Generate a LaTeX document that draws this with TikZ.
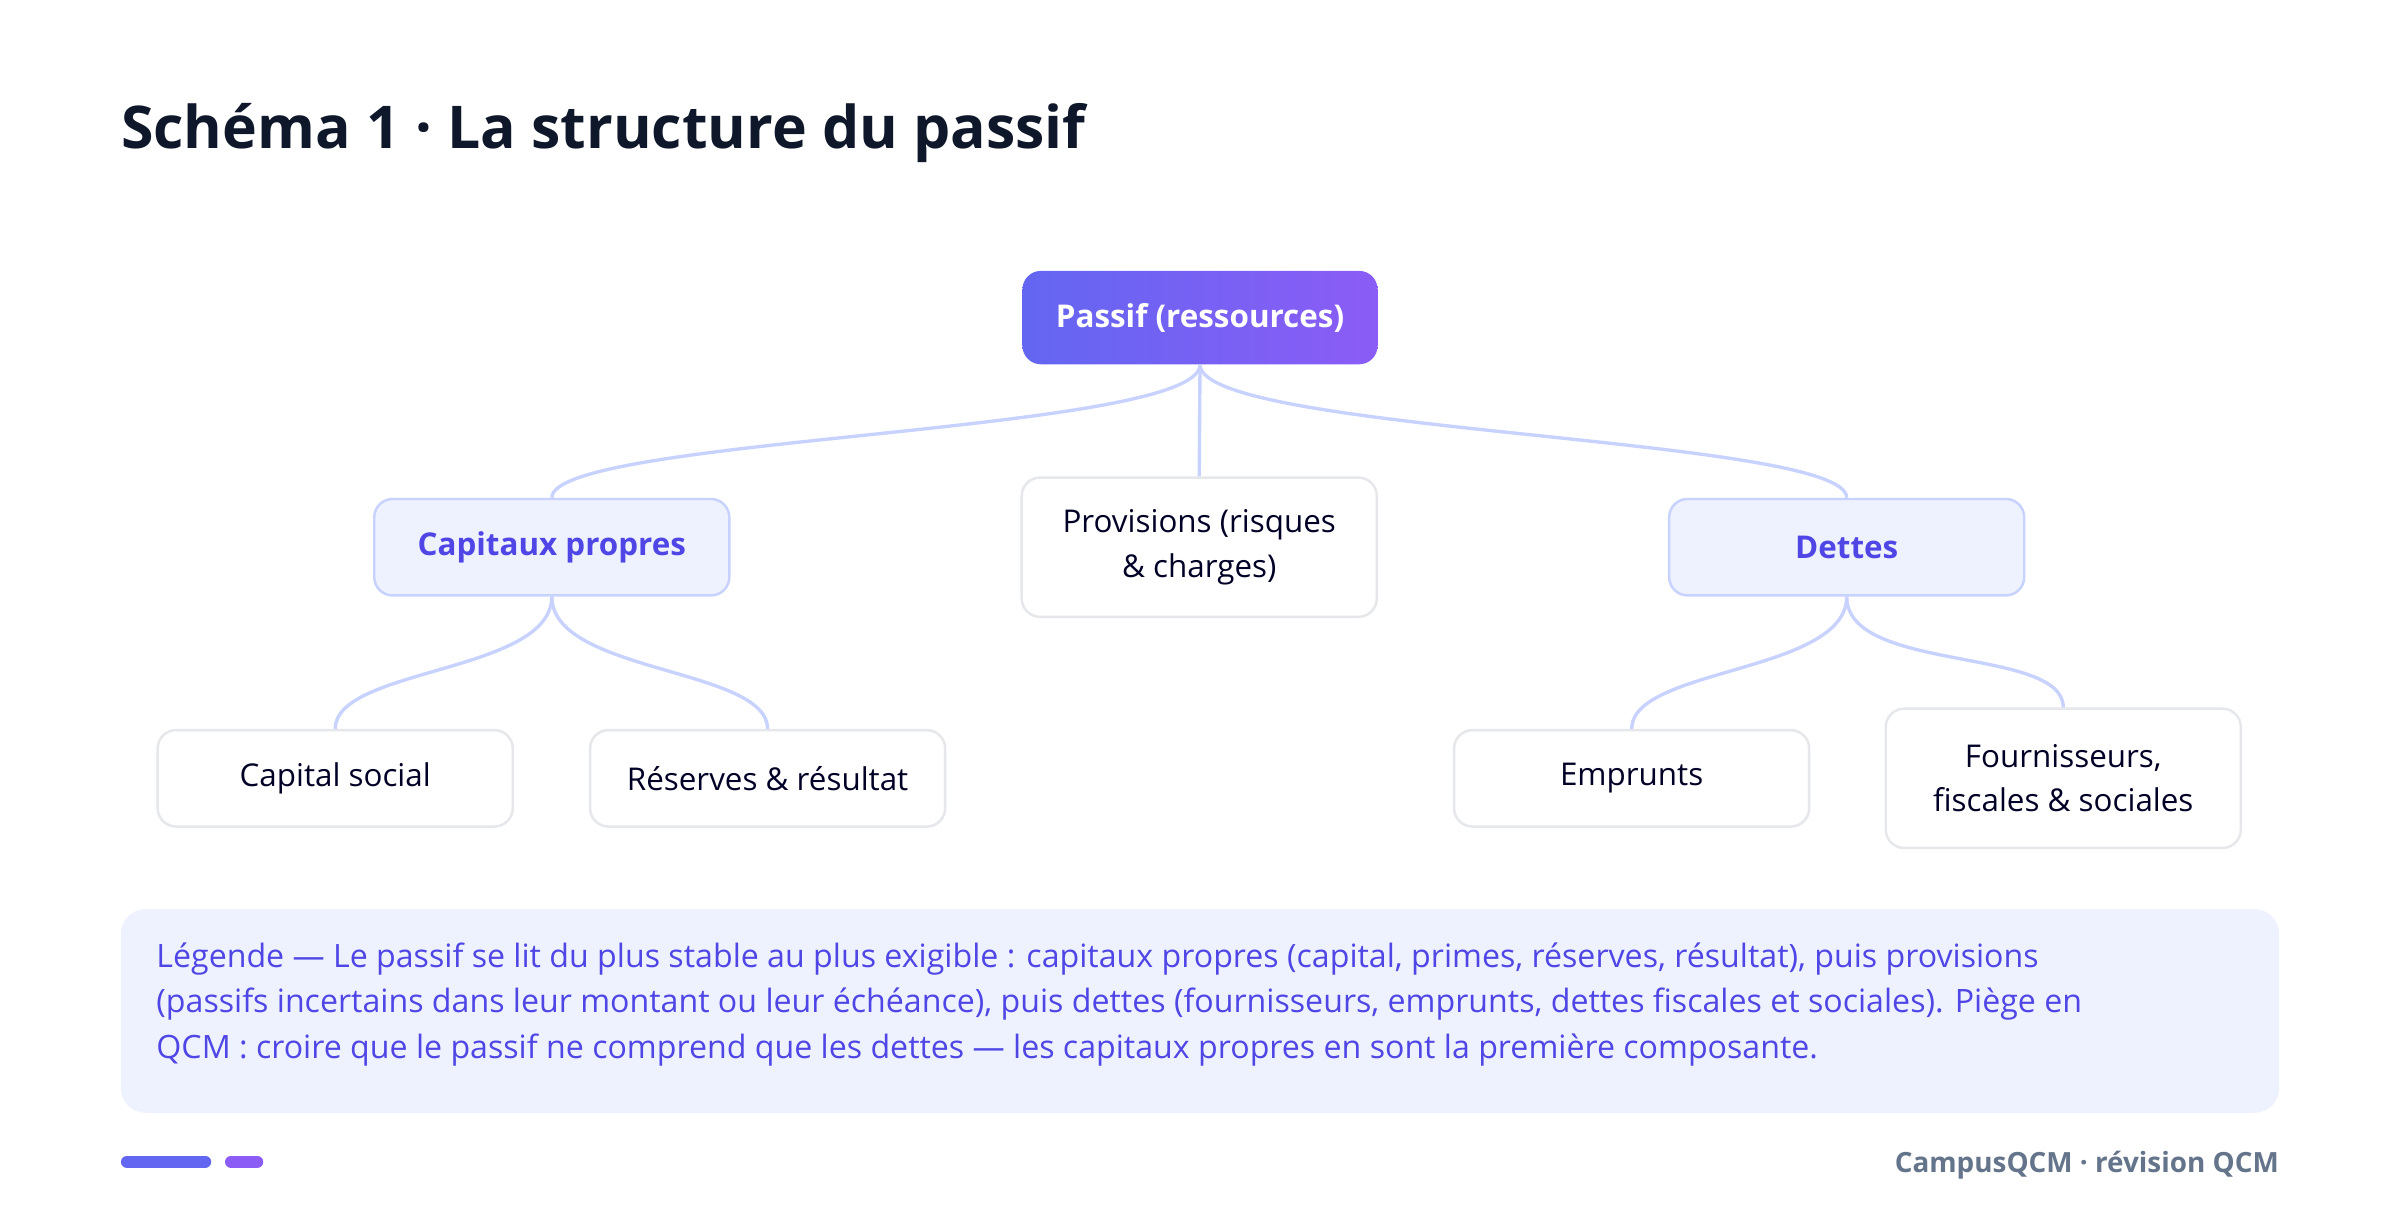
\documentclass[tikz,border=0pt]{standalone}
\usepackage{fontspec}
\setmainfont{Open Sans}
\begin{document}
\begin{tikzpicture}[x=1pt,y=-1pt,
  box/.style={draw=#1,line width=1.6pt,rounded corners=12pt,minimum width=232pt,align=center,font=\fontsize{20.5}{29}\selectfont,text=black!85!blue},
  cat/.style={box=indigo2,fill=indigo1,minimum height=63pt,text=indigoT,font=\fontsize{20.5}{29}\selectfont\bfseries},
  leaf/.style={box=gray2,fill=white,minimum height=63pt},
  con/.style={draw=indigo2,line width=2.2pt}]
\definecolor{indigo1}{HTML}{EEF2FF}
\definecolor{indigo2}{HTML}{C7D2FE}
\definecolor{indigoT}{HTML}{4F46E5}
\definecolor{gray2}{HTML}{E5E7EB}
\definecolor{ink}{HTML}{0F172A}
\definecolor{gA}{HTML}{6366F1}
\definecolor{gB}{HTML}{8B5CF6}
\useasboundingbox (0,0) rectangle (1568,799);
\node[anchor=base west,font=\fontsize{38.5}{44}\selectfont\bfseries,text=ink,inner sep=0pt] (title) at (79,97) {Schéma 1 · La structure du passif};
\node[rounded corners=12pt,minimum width=232pt,minimum height=61pt,left color=gA,right color=gB,text=white,font=\fontsize{20.5}{29}\selectfont\bfseries] (root) at (784,207.5) {Passif (ressources)};
\node[cat] (cp) at (360.5,357.5) {Capitaux propres};
\node[leaf,minimum height=91pt] (prov) at (783.5,357.5) {Provisions (risques\\\& charges)};
\node[cat] (det) at (1206.5,357.5) {Dettes};
\node[leaf] (cs) at (219,508.5) {Capital social};
\node[leaf] (res) at (501.5,508.5) {Réserves \& résultat};
\node[leaf] (emp) at (1066,508.5) {Emprunts};
\node[leaf,minimum height=91pt] (four) at (1348,508.5) {Fournisseurs,\\fiscales \& sociales};
\draw[con] (root.south) .. controls +(0,45) and +(0,-40) .. (cp.north);
\draw[con] (root.south) .. controls +(0,45) and +(0,-40) .. (det.north);
\draw[con] (root.south) -- (prov.north);
\draw[con] (cp.south) .. controls +(0,50) and +(0,-40) .. (cs.north);
\draw[con] (cp.south) .. controls +(0,50) and +(0,-40) .. (res.north);
\draw[con] (det.south) .. controls +(0,50) and +(0,-40) .. (emp.north);
\draw[con] (det.south) .. controls +(0,50) and +(0,-40) .. (four.north);
\fill[indigo1,rounded corners=16pt] (79,594) rectangle (1489,727);
\node[anchor=north west,align=left,text=indigoT,font=\fontsize{21}{29.5}\selectfont,inner sep=0pt] (leg) at (102,616) {Légende — Le passif se lit du plus stable au plus exigible : capitaux propres (capital, primes, réserves, résultat), puis provisions\\(passifs incertains dans leur montant ou leur échéance), puis dettes (fournisseurs, emprunts, dettes fiscales et sociales). Piège en\\QCM : croire que le passif ne comprend que les dettes — les capitaux propres en sont la première composante.};
\draw[line width=8pt,line cap=round,color=gA] (83,759) -- (134,759);
\draw[line width=8pt,line cap=round,color=gB] (151,759) -- (168,759);
\node[anchor=base east,text={rgb,255:red,100;green,116;blue,139},font=\fontsize{18.2}{22}\selectfont\bfseries,inner sep=0pt] (foot) at (1489,766) {CampusQCM · révision QCM};
\end{tikzpicture}
\end{document}
